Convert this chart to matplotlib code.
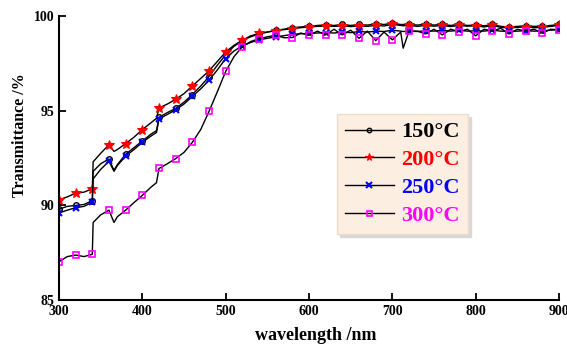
import numpy as np
import matplotlib
matplotlib.use("Agg")
import matplotlib.pyplot as plt

# wavelength grid (nm), shared by all four curves
wavelength = [300, 310, 320, 330, 340, 341, 350, 360, 366, 370, 380, 390, 400, 410, 417,
              420, 430, 440, 450, 460, 470, 480, 490, 500, 510, 520, 530, 540, 550, 560,
              570, 580, 590, 600, 610, 620, 630, 640, 650, 660, 670, 680, 690, 700, 710,
              713, 720, 730, 740, 750, 760, 770, 780, 790, 800, 810, 820, 830, 840, 850,
              860, 870, 880, 890, 900]

t150 = [89.80, 89.95, 90.00, 90.05, 90.25, 91.80, 92.20, 92.45, 91.85, 92.15, 92.70, 93.05, 93.40, 93.75, 93.95,
        94.65, 94.90, 95.12, 95.45, 95.85, 96.30, 96.80, 97.40, 97.95, 98.40, 98.70, 98.90, 99.05, 99.15, 99.25,
        99.30, 99.38, 99.42, 99.45, 99.50, 99.52, 99.50, 99.55, 99.50, 99.55, 99.52, 99.58, 99.55, 99.62, 99.55,
        99.55, 99.56, 99.52, 99.56, 99.52, 99.56, 99.50, 99.56, 99.50, 99.52, 99.48, 99.55, 99.45, 99.42, 99.45,
        99.48, 99.45, 99.46, 99.50, 99.55]

t200 = [90.30, 90.45, 90.65, 90.70, 90.88, 92.30, 92.75, 93.20, 92.85, 92.95, 93.26, 93.60, 94.00, 94.35, 94.60,
        95.14, 95.35, 95.60, 95.90, 96.30, 96.70, 97.10, 97.60, 98.10, 98.45, 98.72, 98.95, 99.08, 99.15, 99.22,
        99.28, 99.33, 99.38, 99.42, 99.45, 99.47, 99.45, 99.48, 99.44, 99.48, 99.45, 99.50, 99.47, 99.56, 99.50,
        99.48, 99.50, 99.45, 99.50, 99.46, 99.50, 99.44, 99.50, 99.46, 99.48, 99.42, 99.50, 99.40, 99.36, 99.40,
        99.42, 99.38, 99.40, 99.45, 99.50]

t250 = [89.60, 89.75, 89.88, 89.95, 90.17, 91.40, 91.90, 92.33, 91.80, 92.10, 92.60, 92.95, 93.33, 93.65, 93.85,
        94.56, 94.80, 95.05, 95.35, 95.75, 96.15, 96.60, 97.15, 97.75, 98.15, 98.42, 98.60, 98.74, 98.82, 98.90,
        98.96, 99.03, 99.06, 99.08, 99.10, 99.12, 99.10, 99.15, 99.12, 99.18, 99.15, 99.20, 99.18, 99.25, 99.20,
        99.18, 99.20, 99.18, 99.22, 99.20, 99.24, 99.20, 99.24, 99.20, 99.22, 99.20, 99.25, 99.20, 99.18, 99.20,
        99.22, 99.20, 99.22, 99.25, 99.28]

t300 = [87.03, 87.30, 87.38, 87.30, 87.42, 89.10, 89.50, 89.75, 89.10, 89.40, 89.75, 90.15, 90.53, 90.95, 91.20,
        91.95, 92.20, 92.47, 92.80, 93.33, 94.00, 94.96, 96.00, 97.07, 97.85, 98.38, 98.65, 98.80, 98.90, 98.98,
        98.85, 98.86, 99.10, 98.98, 99.20, 99.00, 99.30, 99.00, 99.25, 98.82, 99.20, 98.70, 99.15, 98.74, 99.15,
        98.30, 99.20, 99.20, 99.05, 99.30, 99.00, 99.30, 99.17, 99.30, 98.95, 99.30, 99.20, 99.35, 99.05, 99.30,
        99.20, 99.30, 99.09, 99.30, 99.26]

labels = ["150\u00b0C", "200\u00b0C", "250\u00b0C", "300\u00b0C"]
colors = ["black", "red", "blue", "magenta"]

plt.rcParams['font.family'] = ['Liberation Serif', 'DejaVu Serif']
plt.rcParams['font.weight'] = 'bold'

wl = np.array(wavelength)
marks = list(np.where(wl % 20 == 0)[0])

fig = plt.figure(figsize=(5.67, 3.47), dpi=100)
ax = fig.add_axes([0.104, 0.135, 0.882, 0.819])

styles = [dict(marker='o', ms=4, mfc='none', mec='black', mew=1.0),
          dict(marker='*', ms=7, mfc='red', mec='red', mew=0.8),
          dict(marker='x', ms=5, mfc='none', mec='blue', mew=1.5),
          dict(marker='s', ms=4.5, mfc='none', mec='magenta', mew=1.2)]

for vals, lab, st in zip([t150, t200, t250, t300], labels, styles):
    ax.plot(wl, vals, '-', color='black', lw=1.0, markevery=marks, label=lab, **st)

ax.set_xlim(300, 900)
ax.set_ylim(85, 100)
ax.set_xticks([300, 400, 500, 600, 700, 800, 900])
ax.set_yticks([85, 90, 95, 100])

for side in ['top', 'right']:
    ax.spines[side].set_visible(False)
for side in ['left', 'bottom']:
    ax.spines[side].set_linewidth(1.5)

ax.tick_params(direction='in', length=5, width=1.3, labelsize=10)
for t in ax.get_xticklabels() + ax.get_yticklabels():
    t.set_fontweight('bold')

ax.set_xlabel('wavelength /nm', fontsize=13, fontweight='bold')
ax.set_ylabel('Transmittance /%', fontsize=11.5, fontweight='bold')
ax.xaxis.set_label_coords(0.514, -0.095)
ax.yaxis.set_label_coords(-0.062, 0.58)

leg = ax.legend(loc='upper left', bbox_to_anchor=(0.556, 0.655), borderaxespad=0,
                prop={'weight': 'bold', 'size': 16}, handlelength=2.2,
                labelspacing=0.33, handletextpad=0.35, borderpad=0.35,
                markerscale=0.8,
                fancybox=False, shadow={'color': '#d8d8d8', 'alpha': 1.0},
                facecolor='#fdeee2', edgecolor='#f0dccb', framealpha=1.0)
for txt, c in zip(leg.get_texts(), colors):
    txt.set_color(c)

fig.savefig('out.png', dpi=100)
